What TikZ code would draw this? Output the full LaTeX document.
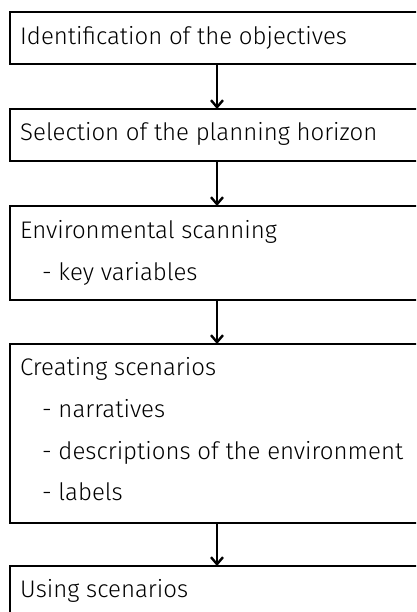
\documentclass[tikz,border=0pt]{standalone}
\usepackage{fontspec}
\newfontfamily\ffont{Fira Sans}[UprightFont=* Light]
\usetikzlibrary{arrows.meta}
\begin{document}
\begin{tikzpicture}[x=1pt,y=1pt,
 box/.style={draw, line width=2.6pt, anchor=north west, minimum width=430pt, inner sep=0pt, outer sep=0pt},
 txt/.style={anchor=base west, inner sep=0pt, font=\ffont\fontsize{24}{24}\selectfont},
 conn/.style={line width=2.4pt, -{Straight Barb[length=7pt,width=12pt]}}]
\useasboundingbox (0,0) rectangle (416,-612);
\clip (0,0) rectangle (416,-612);
\fill[white] (0,0) rectangle (416,-612);
\node[box, minimum height=52pt] (b1) at (10,-12) {};
\node[box, minimum height=52pt] (b2) at (10,-109) {};
\node[box, minimum height=94pt] (b3) at (10,-206) {};
\node[box, minimum height=179pt] (b4) at (10,-344) {};
\node[box, minimum height=70pt] (b5) at (10,-566) {};
\coordinate (ax) at (217,0);
\draw[conn] (b1.south -| ax) -- (b2.north -| ax);
\draw[conn] (b2.south -| ax) -- (b3.north -| ax);
\draw[conn] (b3.south -| ax) -- (b4.north -| ax);
\draw[conn] (b4.south -| ax) -- (b5.north -| ax);
\node[txt] (t1) at (20,-45) {Identification of the objectives};
\node[txt] (t2) at (20,-141) {Selection of the planning horizon};
\node[txt] (t3) at (20,-238) {Environmental scanning};
\node[txt] (t3a) at (42,-280) {- key variables};
\node[txt] (t4) at (20,-375) {Creating scenarios};
\node[txt] (t4a) at (42,-417) {- narratives};
\node[txt] (t4b) at (42,-459) {- descriptions of the environment};
\node[txt] (t4c) at (42,-500) {- labels};
\node[txt] (t5) at (20,-597) {Using scenarios};
\end{tikzpicture}
\end{document}
